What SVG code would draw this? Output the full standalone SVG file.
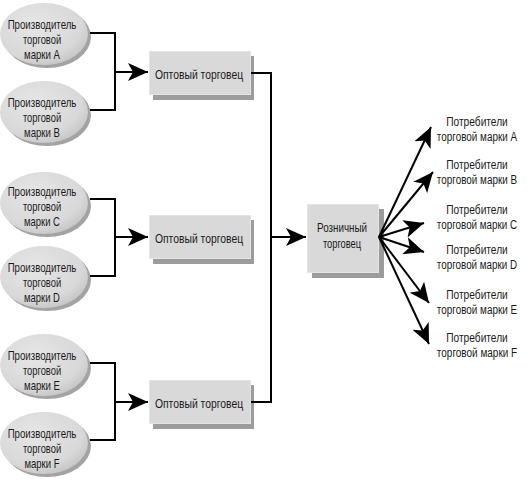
<svg xmlns="http://www.w3.org/2000/svg" width="531" height="484" viewBox="0 0 531 484">
<defs>
<radialGradient id="eg" cx="0.4" cy="0.35" r="0.7">
<stop offset="0" stop-color="#e6e6e6"/>
<stop offset="0.75" stop-color="#d8d8d8"/>
<stop offset="1" stop-color="#c4c4c4"/>
</radialGradient>
<marker id="ah" markerUnits="userSpaceOnUse" viewBox="0 0 20 18" refX="20" refY="9" markerWidth="20" markerHeight="18" orient="auto">
<path d="M0,0 L20,9 L0,18 L5,9 Z" fill="#000"/>
</marker>
</defs>
<style>
text{font-family:"Liberation Sans Narrow","Liberation Sans",Arial,sans-serif;font-size:13px;fill:#1a1a1a;text-anchor:middle}
.c text{font-size:13.5px}
.esh{fill:#a3a3a3}
.ell{fill:url(#eg)}
.bsh{fill:#9c9c9c}
.box{fill:#d9d9d9;stroke:#e4e4e4;stroke-width:1}
.ln{fill:none;stroke:#000;stroke-width:2}
.ar{fill:none;stroke:#000;stroke-width:2;marker-end:url(#ah)}
</style>
<rect width="531" height="484" fill="#fff"/>

<g id="producer-a">
<ellipse class="esh" cx="47" cy="37" rx="44" ry="31"/>
<ellipse class="ell" cx="44" cy="34" rx="44" ry="31"/>
<g transform="translate(42 0) scale(0.78 1)">
<text x="0" y="29" textLength="88" lengthAdjust="spacingAndGlyphs">Производитель</text>
<text x="0" y="44" textLength="49" lengthAdjust="spacingAndGlyphs">торговой</text>
<text x="0" y="59" textLength="46" lengthAdjust="spacingAndGlyphs">марки A</text>
</g>
</g>
<g id="producer-b">
<ellipse class="esh" cx="47" cy="115" rx="44" ry="31"/>
<ellipse class="ell" cx="44" cy="112" rx="44" ry="31"/>
<g transform="translate(42 0) scale(0.78 1)">
<text x="0" y="107" textLength="88" lengthAdjust="spacingAndGlyphs">Производитель</text>
<text x="0" y="122" textLength="49" lengthAdjust="spacingAndGlyphs">торговой</text>
<text x="0" y="137" textLength="46" lengthAdjust="spacingAndGlyphs">марки B</text>
</g>
</g>
<g id="producer-c">
<ellipse class="esh" cx="47" cy="206" rx="44" ry="31"/>
<ellipse class="ell" cx="44" cy="203" rx="44" ry="31"/>
<g transform="translate(42 0) scale(0.78 1)">
<text x="0" y="196" textLength="88" lengthAdjust="spacingAndGlyphs">Производитель</text>
<text x="0" y="211" textLength="49" lengthAdjust="spacingAndGlyphs">торговой</text>
<text x="0" y="226" textLength="46" lengthAdjust="spacingAndGlyphs">марки C</text>
</g>
</g>
<g id="producer-d">
<ellipse class="esh" cx="47" cy="280" rx="44" ry="31"/>
<ellipse class="ell" cx="44" cy="277" rx="44" ry="31"/>
<g transform="translate(42 0) scale(0.78 1)">
<text x="0" y="272" textLength="88" lengthAdjust="spacingAndGlyphs">Производитель</text>
<text x="0" y="287" textLength="49" lengthAdjust="spacingAndGlyphs">торговой</text>
<text x="0" y="302" textLength="46" lengthAdjust="spacingAndGlyphs">марки D</text>
</g>
</g>
<g id="producer-e">
<ellipse class="esh" cx="47" cy="368" rx="44" ry="31"/>
<ellipse class="ell" cx="44" cy="365" rx="44" ry="31"/>
<g transform="translate(42 0) scale(0.78 1)">
<text x="0" y="360" textLength="88" lengthAdjust="spacingAndGlyphs">Производитель</text>
<text x="0" y="375" textLength="49" lengthAdjust="spacingAndGlyphs">торговой</text>
<text x="0" y="390" textLength="46" lengthAdjust="spacingAndGlyphs">марки E</text>
</g>
</g>
<g id="producer-f">
<ellipse class="esh" cx="47" cy="446" rx="44" ry="31"/>
<ellipse class="ell" cx="44" cy="443" rx="44" ry="31"/>
<g transform="translate(42 0) scale(0.78 1)">
<text x="0" y="438" textLength="88" lengthAdjust="spacingAndGlyphs">Производитель</text>
<text x="0" y="453" textLength="49" lengthAdjust="spacingAndGlyphs">торговой</text>
<text x="0" y="468" textLength="45" lengthAdjust="spacingAndGlyphs">марки F</text>
</g>
</g>

<g id="wholesaler-1">
<rect class="bsh" x="153" y="56" width="101" height="44"/>
<rect class="box" x="149.5" y="51.5" width="101" height="43"/>
<g transform="translate(199 0) scale(0.78 1)">
<text x="0" y="79" textLength="113" lengthAdjust="spacingAndGlyphs">Оптовый торговец</text>
</g>
</g>
<g id="wholesaler-2">
<rect class="bsh" x="153" y="220" width="101" height="44"/>
<rect class="box" x="149.5" y="215.5" width="101" height="43"/>
<g transform="translate(199 0) scale(0.78 1)">
<text x="0" y="243" textLength="113" lengthAdjust="spacingAndGlyphs">Оптовый торговец</text>
</g>
</g>
<g id="wholesaler-3">
<rect class="bsh" x="153" y="385" width="101" height="44"/>
<rect class="box" x="149.5" y="380.5" width="101" height="43"/>
<g transform="translate(199 0) scale(0.78 1)">
<text x="0" y="408" textLength="113" lengthAdjust="spacingAndGlyphs">Оптовый торговец</text>
</g>
</g>

<g id="retailer">
<rect class="bsh" x="312" y="209" width="72" height="69"/>
<rect class="box" x="307.5" y="204.5" width="71" height="68"/>
<g transform="translate(342 0) scale(0.78 1)">
<text x="0" y="232" textLength="64" lengthAdjust="spacingAndGlyphs">Розничный</text>
<text x="0" y="248" textLength="49" lengthAdjust="spacingAndGlyphs">торговец</text>
</g>
</g>

<g id="consumer-a" class="c" transform="translate(477 0) scale(0.78 1)">
<text x="0" y="126" textLength="79" lengthAdjust="spacingAndGlyphs">Потребители</text>
<text x="0" y="141" textLength="103" lengthAdjust="spacingAndGlyphs">торговой марки A</text>
</g>
<g id="consumer-b" class="c" transform="translate(477 0) scale(0.78 1)">
<text x="0" y="169" textLength="79" lengthAdjust="spacingAndGlyphs">Потребители</text>
<text x="0" y="184" textLength="103" lengthAdjust="spacingAndGlyphs">торговой марки B</text>
</g>
<g id="consumer-c" class="c" transform="translate(477 0) scale(0.78 1)">
<text x="0" y="214" textLength="79" lengthAdjust="spacingAndGlyphs">Потребители</text>
<text x="0" y="229" textLength="103" lengthAdjust="spacingAndGlyphs">торговой марки C</text>
</g>
<g id="consumer-d" class="c" transform="translate(477 0) scale(0.78 1)">
<text x="0" y="254" textLength="79" lengthAdjust="spacingAndGlyphs">Потребители</text>
<text x="0" y="269" textLength="103" lengthAdjust="spacingAndGlyphs">торговой марки D</text>
</g>
<g id="consumer-e" class="c" transform="translate(477 0) scale(0.78 1)">
<text x="0" y="299" textLength="79" lengthAdjust="spacingAndGlyphs">Потребители</text>
<text x="0" y="314" textLength="103" lengthAdjust="spacingAndGlyphs">торговой марки E</text>
</g>
<g id="consumer-f" class="c" transform="translate(477 0) scale(0.78 1)">
<text x="0" y="342" textLength="79" lengthAdjust="spacingAndGlyphs">Потребители</text>
<text x="0" y="357" textLength="103" lengthAdjust="spacingAndGlyphs">торговой марки F</text>
</g>

<g id="connectors">
<path class="ln" d="M90,33 H115 V110 H90"/>
<path class="ar" d="M115,72 H148"/>
<path class="ln" d="M90,199 H115 V276 H90"/>
<path class="ar" d="M115,237 H148"/>
<path class="ln" d="M90,363 H115 V440 H90"/>
<path class="ar" d="M115,402 H148"/>
<path class="ln" d="M251,73 H271 V402 H251"/>
<path class="ar" d="M271,237 H306"/>
<path class="ar" d="M379,237 L431,127"/>
<path class="ar" d="M379,237 L433,172"/>
<path class="ar" d="M379,237 L424,223"/>
<path class="ar" d="M379,237 L424,252"/>
<path class="ar" d="M379,237 L429,303"/>
<path class="ar" d="M379,237 L429,344"/>
</g>
</svg>
